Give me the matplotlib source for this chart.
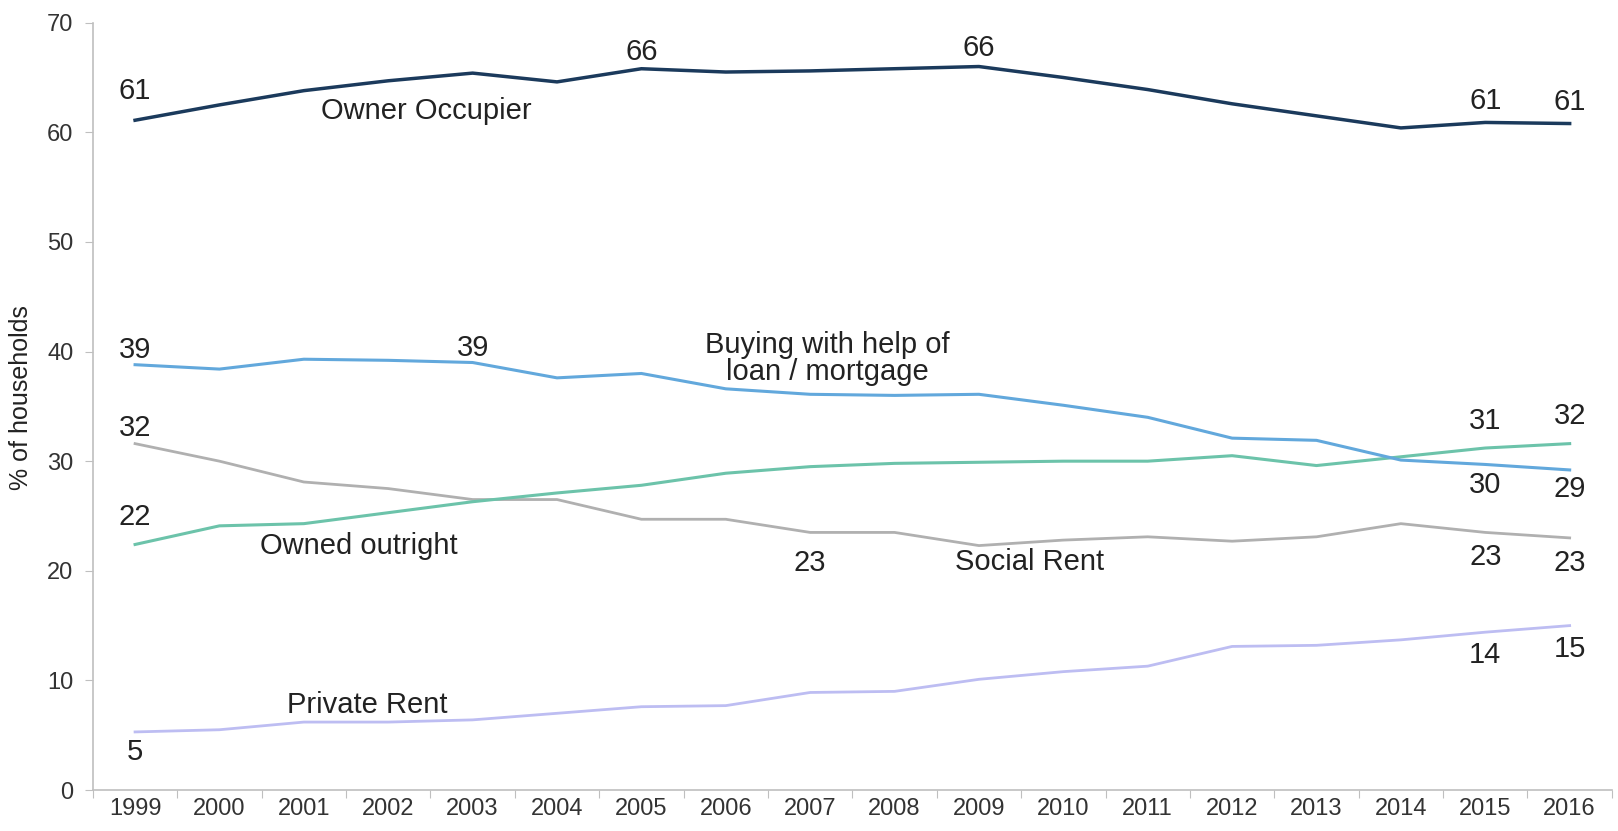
import matplotlib
matplotlib.use("Agg")
import matplotlib.pyplot as plt
import numpy as np

plt.rcParams['font.family'] = ['Liberation Sans', 'DejaVu Sans']

years = [str(y) for y in range(1999, 2017)]
owner_occupier = [61.1, 62.5, 63.8, 64.7, 65.4, 64.6, 65.8, 65.5, 65.6, 65.8, 66.0, 65.0, 63.9, 62.6, 61.5, 60.4, 60.9, 60.8]
mortgage = [38.8, 38.4, 39.3, 39.2, 39.0, 37.6, 38.0, 36.6, 36.1, 36.0, 36.1, 35.1, 34.0, 32.1, 31.9, 30.1, 29.7, 29.2]
outright = [22.4, 24.1, 24.3, 25.3, 26.3, 27.1, 27.8, 28.9, 29.5, 29.8, 29.9, 30.0, 30.0, 30.5, 29.6, 30.4, 31.2, 31.6]
social_rent = [31.6, 30.0, 28.1, 27.5, 26.5, 26.5, 24.7, 24.7, 23.5, 23.5, 22.3, 22.8, 23.1, 22.7, 23.1, 24.3, 23.5, 23.0]
private_rent = [5.3, 5.5, 6.2, 6.2, 6.4, 7.0, 7.6, 7.7, 8.9, 9.0, 10.1, 10.8, 11.3, 13.1, 13.2, 13.7, 14.4, 15.0]

series_colors = {
    'owner': '#1B3A5C',
    'mortgage': '#62A8DC',
    'outright': '#6CC3AA',
    'social': '#B0B0B0',
    'private': '#BDBDF2',
}

# annotations: (text, x index, y value)
value_labels = [
    ("61", 0, 63.8), ("66", 6, 67.3), ("66", 10, 67.7), ("61", 16, 62.9), ("61", 17, 62.8),
    ("39", 0, 40.1), ("39", 4, 40.3), ("31", 16, 33.7), ("32", 17, 34.1),
    ("30", 16, 27.8), ("29", 17, 27.5),
    ("32", 0, 33.0), ("22", 0, 24.9),
    ("23", 8, 20.7), ("23", 16, 21.3), ("23", 17, 20.7),
    ("5", 0, 3.5), ("14", 16, 12.3), ("15", 17, 12.9),
]
series_labels = [
    ("Owner Occupier", 3.45, 61.9),
    ("Buying with help of\nloan / mortgage", 8.2, 39.4),
    ("Owned outright", 2.65, 22.3),
    ("Social Rent", 10.6, 20.8),
    ("Private Rent", 2.75, 7.8),
]

fig = plt.figure(figsize=(16.18, 8.31), dpi=100)
ax = fig.add_axes([0.0574, 0.0493, 0.9388, 0.9234])
x = np.arange(len(years))

ax.plot(x, private_rent, color=series_colors['private'], lw=2)
ax.plot(x, social_rent, color=series_colors['social'], lw=2)
ax.plot(x, outright, color=series_colors['outright'], lw=2.2)
ax.plot(x, mortgage, color=series_colors['mortgage'], lw=2.2)
ax.plot(x, owner_occupier, color=series_colors['owner'], lw=2.5)

txtc = '#222222'
for t, xi, yv in value_labels:
    ax.text(xi, yv, t, ha='center', va='center', fontsize=21, color=txtc)
for t, xi, yv in series_labels:
    ax.text(xi, yv, t, ha='center', va='center', fontsize=21, color=txtc, linespacing=0.95)

ax.set_xlim(-0.5, len(years) - 0.5)
ax.set_ylim(0, 70)
ax.set_yticks(np.arange(0, 71, 10))
ax.set_xticks(np.arange(-0.5, len(years), 1))
ax.set_xticklabels([])
ax.set_xticks(x, minor=True)
ax.set_xticklabels(years, minor=True)
ax.tick_params(axis='x', which='minor', length=0, labelsize=17, colors='#333333', pad=6)
ax.tick_params(axis='x', which='major', length=6, color='#BFBFBF', direction='out')
ax.tick_params(axis='y', length=6, color='#BFBFBF', labelsize=17, labelcolor='#333333', pad=8)

for s in ['top', 'right']:
    ax.spines[s].set_visible(False)
for s in ['left', 'bottom']:
    ax.spines[s].set_color('#BFBFBF')
    ax.spines[s].set_linewidth(1.2)

ax.set_ylabel('% of households', fontsize=18, color=txtc)
ax.yaxis.set_label_coords(-0.0395, 0.512)

fig.savefig('out.png', dpi=100)
